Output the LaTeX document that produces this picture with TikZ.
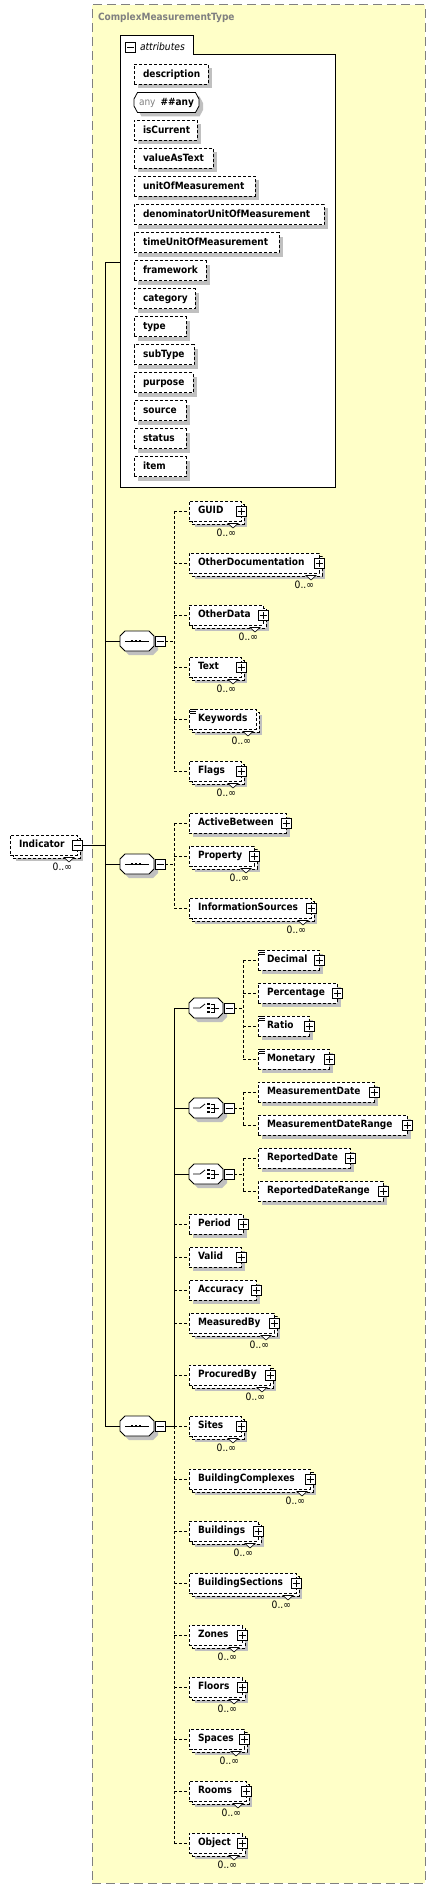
\documentclass[tikz,border=0pt]{standalone}
\usepackage{fontspec}
\setmainfont{DejaVu Sans Condensed}
\usetikzlibrary{shadows,calc}
\definecolor{bgyellow}{RGB}{255,255,200}
\definecolor{shadowgray}{RGB}{192,192,192}
\definecolor{framegray}{RGB}{128,128,128}
\tikzset{
  every node/.style={inner sep=0pt, outer sep=0pt},
  elemfont/.style={font=\bfseries\fontsize{10}{12}\selectfont},
  smallfont/.style={font=\fontsize{10.2}{12}\selectfont},
  fine dash/.style={dash pattern=on 3pt off 2pt},
  elem/.style={draw, line width=0.8pt, fine dash, fill=white, minimum height=20pt,
    inner xsep=9pt, anchor=west, align=left, text height=7.6pt, text depth=2.2pt, elemfont},
  single/.style={general shadow={fill=shadowgray, draw=none, shadow xshift=4pt, shadow yshift=-4pt}},
  multi/.style={general shadow={fill=shadowgray, draw=none, shadow xshift=6pt, shadow yshift=-6pt},
    general shadow={draw, fill=white, line width=0.8pt, fine dash, shadow xshift=3pt, shadow yshift=-3pt}},
  pmbox/.style={draw, solid, line width=0.8pt, fill=white, minimum size=10pt},
  plusbox/.style={pmbox, path picture={
      \draw[line width=0.8pt] ([xshift=-3.5pt]path picture bounding box.center) -- ([xshift=3.5pt]path picture bounding box.center)
        ([yshift=-3.5pt]path picture bounding box.center) -- ([yshift=3.5pt]path picture bounding box.center);}},
  minusbox/.style={pmbox, path picture={
      \draw[line width=0.8pt] ([xshift=-3.5pt]path picture bounding box.center) -- ([xshift=3.5pt]path picture bounding box.center);}},
  octobase/.style={minimum width=34pt, minimum height=20pt},
  anybase/.style={minimum width=65pt, minimum height=20pt, elemfont, text height=7.6pt, text depth=2.2pt},
  octoline/.style={draw, solid, line width=0.8pt, fill=white, single},
  iconline/.style={draw, solid, line width=0.8pt},
  notch/.style={draw, solid, line width=0.6pt, fill=white},
  mult/.style={smallfont, anchor=east, text height=7.6pt, text depth=2.2pt},
  conn/.style={draw, solid, line width=0.8pt},
  dconn/.style={draw, line width=0.8pt, fine dash},
  attrframe/.style={draw, solid, line width=1pt, fill=white},
  typebox/.style={draw=framegray, line width=1pt, dash pattern=on 9pt off 5pt, fill=bgyellow}
}
\newcommand\xel[6][]{%
  \pgfmathsetmacro\xelw{#4-#3-18}%
  \node[elem,#1,text width=\xelw pt] (#2) at (#3,#5) {\mbox{#6}};}
\newcommand\xplus[1]{\node[plusbox] (#1p) at (#1.east) {};}
\newcommand\xmult[1]{%
  \draw[notch] ($(#1.east)+(-13,12.5)$) -- ++(10,0) -- ++(-5,4.5) -- cycle;
  \node[mult] (#1m) at ($(#1.east)+(-5,23)$) {0..∞};}
\newcommand\xsimple[1]{%
  \draw[solid, line width=0.7pt] ($(#1.north west)+(1,0.5)$) -- ++(6,0)
    ($(#1.north west)+(1,2.5)$) -- ++(6,0) ($(#1.north west)+(1,4.5)$) -- ++(6,0);}
% chamfered outline round a named node: name, chamfer
\newcommand\xcham[2]{%
  \draw[octoline] ($(#1.west)+(0,-#2)$) -- ($(#1.north west)+(#2,0)$) -- ($(#1.north east)+(-#2,0)$)
    -- ($(#1.east)+(0,-#2)$) -- ($(#1.east)+(0,#2)$) -- ($(#1.south east)+(-#2,0)$)
    -- ($(#1.south west)+(#2,0)$) -- ($(#1.west)+(0,#2)$) -- cycle;}
\newcommand\xseq[3]{% name, x, y
  \node[octobase] (#1) at (#2,#3) {};
  \xcham{#1}{5}
  \draw[iconline] ($(#1.center)+(-12,0)$) -- ($(#1.center)+(12,0)$);
  \foreach \dx in {-5,-1,3} \fill ($(#1.center)+(\dx-1.4,-1.4)$) rectangle ++(2.8,2.8);
  \node[minusbox] (#1p) at ($(#1.east)+(6,0)$) {};}
\newcommand\xchoice[3]{% name, x, y
  \node[octobase] (#1) at (#2,#3) {};
  \xcham{#1}{5}
  \draw[iconline] ($(#1.center)+(-13,0)$) -- ($(#1.center)+(-6,0)$) -- ($(#1.center)+(-1,-4)$);
  \foreach \dy in {-4,0,4} \fill ($(#1.center)+(1,\dy-1.3)$) rectangle ++(2.6,2.6);
  \draw[iconline] ($(#1.center)+(4.5,-4)$) -- ($(#1.center)+(8,-4)$) -- ($(#1.center)+(8,4)$) -- ($(#1.center)+(4.5,4)$)
    ($(#1.center)+(4.5,0)$) -- ($(#1.center)+(13,0)$);
  \node[minusbox] (#1p) at ($(#1.east)+(6,0)$) {};}
\begin{document}
\begin{tikzpicture}[x=1pt, y=-1pt]
\useasboundingbox (0,0) rectangle (436,1889);
% complex type container
\node[typebox, anchor=north west, minimum width=333pt, minimum height=1878pt] (ctype) at (92,5) {};
\node[anchor=west, elemfont, text=framegray] (title) at (98,18) {ComplexMeasurementType};
% attributes box
\node[anchor=north west, minimum width=73pt, minimum height=19pt] (attrtab) at (120,36) {};
\node[anchor=north west, minimum width=215pt, minimum height=432pt] (attrbox) at (120,55) {};
\draw[attrframe] (attrbox.south west) -- (attrtab.north west) -- (attrtab.north east) -- (attrtab.south east)
  -- (attrbox.north east) -- (attrbox.south east) -- cycle;
\node[minusbox] (attrm) at (130.5,47) {};
\node[anchor=west, font=\itshape\fontsize{10.2}{12}\selectfont] (attrlbl) at (140,47) {attributes};
\xel[single]{a1}{134}{208}{74.5}{description}
\node[anybase] (a2) at (166.5,102.5) {};
\xcham{a2}{3.5}
\node[anybase] (a2t) at (166.5,102.5) {{\mdseries\color{framegray}any}\enspace\#\#any};
\xel[single]{a3}{134}{197}{130.5}{isCurrent}
\xel[single]{a4}{134}{213}{158.5}{valueAsText}
\xel[single]{a5}{134}{255}{186.5}{unitOfMeasurement}
\xel[single]{a6}{134}{324}{214.5}{denominatorUnitOfMeasurement}
\xel[single]{a7}{134}{279}{242.5}{timeUnitOfMeasurement}
\xel[single]{a8}{134}{206}{270.5}{framework}
\xel[single]{a9}{134}{195}{298.5}{category}
\xel[single]{a10}{134}{186}{326.5}{type}
\xel[single]{a11}{134}{194}{354.5}{subType}
\xel[single]{a12}{134}{193}{382.5}{purpose}
\xel[single]{a13}{134}{186}{410.5}{source}
\xel[single]{a14}{134}{186}{438.5}{status}
\xel[single]{a15}{134}{186}{466.5}{item}
% root element
\xel[multi]{ind}{10}{77}{845}{Indicator}
\node[minusbox] (indp) at (ind.east) {};
\xmult{ind}
% sequence 1
\xseq{seq1}{137}{641}
\xel[multi]{guid}{189}{241}{511}{GUID}\xplus{guid}\xmult{guid}
\xel[multi]{otherdoc}{189}{319}{563}{OtherDocumentation}\xplus{otherdoc}\xmult{otherdoc}
\xel[multi]{otherdata}{189}{263}{615}{OtherData}\xplus{otherdata}\xmult{otherdata}
\xel[multi]{text}{189}{241}{667}{Text}\xplus{text}\xmult{text}
\xel[multi]{keywords}{189}{256}{719}{Keywords}\xsimple{keywords}\xmult{keywords}
\xel[multi]{flags}{189}{241}{771}{Flags}\xplus{flags}\xmult{flags}
% sequence 2
\xseq{seq2}{137}{864}
\xel[single]{active}{189}{286}{823}{ActiveBetween}\xplus{active}
\xel[multi]{property}{189}{254}{856}{Property}\xplus{property}\xmult{property}
\xel[multi]{infosrc}{189}{311}{908}{InformationSources}\xplus{infosrc}\xmult{infosrc}
% sequence 3
\xseq{seq3}{137}{1426}
% choice 1
\xchoice{ch1}{206}{1008}
\xel[single]{decimal}{258}{319}{960}{Decimal}\xplus{decimal}\xsimple{decimal}
\xel[single]{percentage}{258}{337}{993}{Percentage}\xplus{percentage}
\xel[single]{ratio}{258}{309}{1026}{Ratio}\xplus{ratio}\xsimple{ratio}
\xel[single]{monetary}{258}{329}{1059}{Monetary}\xplus{monetary}\xsimple{monetary}
% choice 2
\xchoice{ch2}{206}{1108}
\xel[single]{mdate}{258}{374}{1092}{MeasurementDate}\xplus{mdate}
\xel[single]{mdrange}{258}{407}{1125}{MeasurementDateRange}\xplus{mdrange}
% choice 3
\xchoice{ch3}{206}{1174}
\xel[single]{rdate}{258}{350}{1158}{ReportedDate}\xplus{rdate}
\xel[single]{rdrange}{258}{383}{1191}{ReportedDateRange}\xplus{rdrange}
% sequence 3 elements
\xel[single]{period}{189}{243}{1224}{Period}\xplus{period}
\xel[single]{valid}{189}{241}{1257}{Valid}\xplus{valid}
\xel[single]{accuracy}{189}{256}{1290}{Accuracy}\xplus{accuracy}
\xel[multi]{measuredby}{189}{274}{1323}{MeasuredBy}\xplus{measuredby}\xmult{measuredby}
\xel[multi]{procuredby}{189}{270}{1375}{ProcuredBy}\xplus{procuredby}\xmult{procuredby}
\xel[multi]{sites}{189}{241}{1426}{Sites}\xplus{sites}\xmult{sites}
\xel[multi]{bcomplex}{189}{310}{1479}{BuildingComplexes}\xplus{bcomplex}\xmult{bcomplex}
\xel[multi]{buildings}{189}{258}{1531}{Buildings}\xplus{buildings}\xmult{buildings}
\xel[multi]{bsections}{189}{296}{1583}{BuildingSections}\xplus{bsections}\xmult{bsections}
\xel[multi]{zones}{189}{242}{1635}{Zones}\xplus{zones}\xmult{zones}
\xel[multi]{floors}{189}{242}{1687}{Floors}\xplus{floors}\xmult{floors}
\xel[multi]{spaces}{189}{244}{1739}{Spaces}\xplus{spaces}\xmult{spaces}
\xel[multi]{rooms}{189}{246}{1791}{Rooms}\xplus{rooms}\xmult{rooms}
\xel[multi]{object}{189}{242}{1843}{Object}\xplus{object}\xmult{object}
% connectors
\coordinate (sp) at (105,262);
\coordinate (spb) at (105,1426);
\coordinate (bus) at (174,0);
\coordinate (cbus) at (243,0);
\draw[conn] (sp) -- (spb);
\draw[conn] (sp) -- (sp -| attrbox.west);
\draw[conn] (indp.east) -- (indp.east -| sp);
\foreach \s in {seq1,seq2,seq3} \draw[conn] (\s.west -| sp) -- (\s.west);
% seq1
\draw[dconn] (seq1p.east) -- (seq1p.east -| bus);
\draw[dconn] (guid.west -| bus) -- (flags.west -| bus);
\foreach \n in {guid,otherdoc,otherdata,text,keywords,flags} \draw[dconn] (\n.west -| bus) -- (\n.west);
% seq2
\draw[dconn] (seq2p.east) -- (seq2p.east -| bus);
\draw[dconn] (active.west -| bus) -- (infosrc.west -| bus);
\foreach \n in {active,property,infosrc} \draw[dconn] (\n.west -| bus) -- (\n.west);
% seq3
\draw[conn] (seq3p.east) -- (seq3p.east -| bus);
\draw[conn] (ch1.west -| bus) -- (seq3p.east -| bus);
\draw[dconn] (seq3p.east -| bus) -- (object.west -| bus);
\foreach \c in {ch1,ch2,ch3} \draw[conn] (\c.west -| bus) -- (\c.west);
\foreach \n in {period,valid,accuracy,measuredby,procuredby,sites,bcomplex,buildings,bsections,zones,floors,spaces,rooms,object}
  \draw[dconn] (\n.west -| bus) -- (\n.west);
% choices
\draw[dconn] (ch1p.east) -- (ch1p.east -| cbus);
\draw[dconn] (decimal.west -| cbus) -- (monetary.west -| cbus);
\foreach \n in {decimal,percentage,ratio,monetary} \draw[dconn] (\n.west -| cbus) -- (\n.west);
\draw[dconn] (ch2p.east) -- (ch2p.east -| cbus);
\draw[dconn] (mdate.west -| cbus) -- (mdrange.west -| cbus);
\foreach \n in {mdate,mdrange} \draw[dconn] (\n.west -| cbus) -- (\n.west);
\draw[dconn] (ch3p.east) -- (ch3p.east -| cbus);
\draw[dconn] (rdate.west -| cbus) -- (rdrange.west -| cbus);
\foreach \n in {rdate,rdrange} \draw[dconn] (\n.west -| cbus) -- (\n.west);
\end{tikzpicture}
\end{document}
